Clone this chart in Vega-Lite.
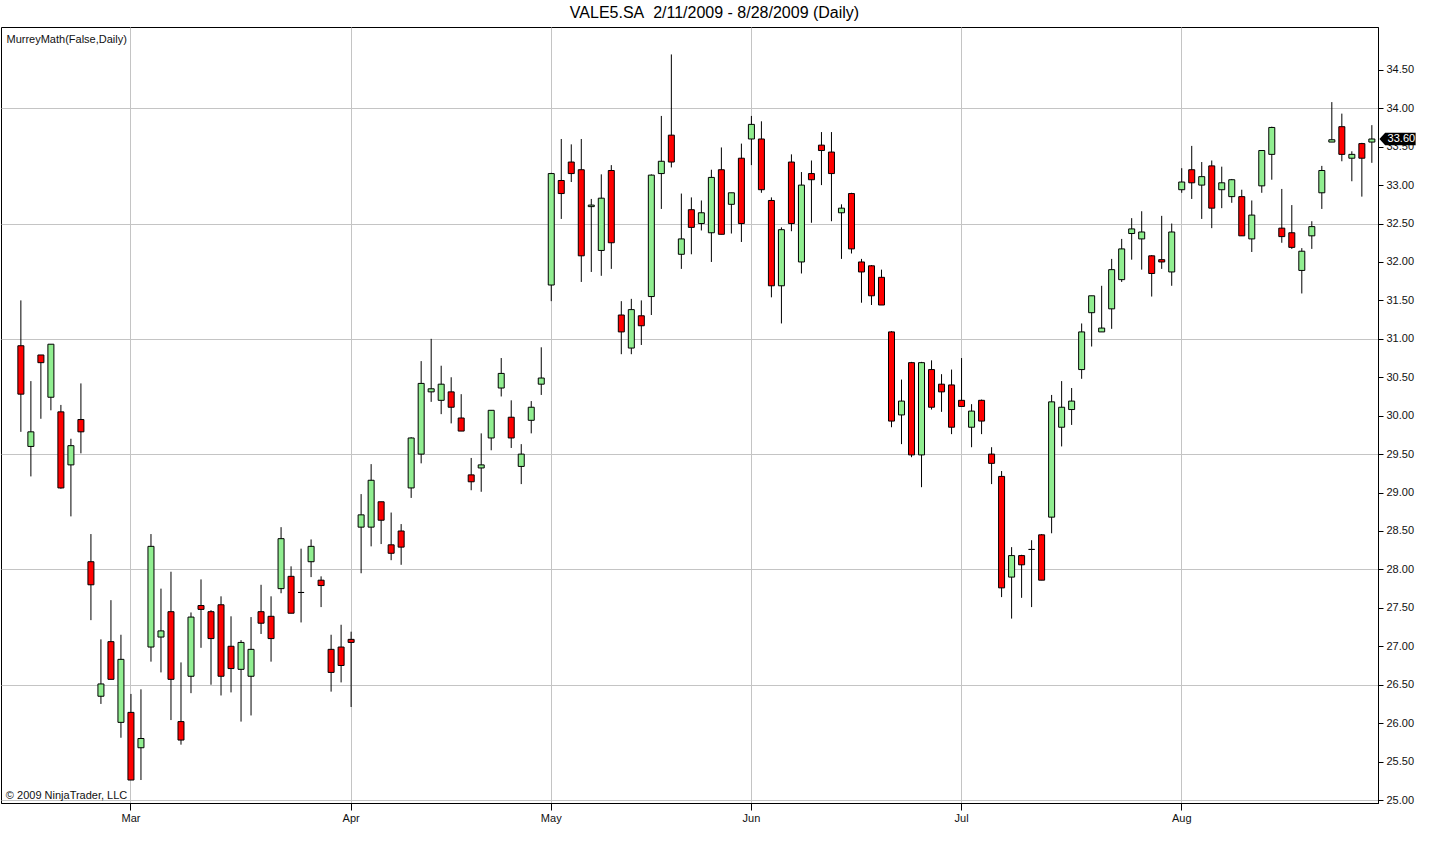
{
  "$schema": "https://vega.github.io/schema/vega-lite/v6.json",
  "width": 1377,
  "height": 776,
  "autosize": {"type": "none"},
  "padding": {"left": 1, "top": 27, "right": 62, "bottom": 44},
  "background": "white",
  "config": {
    "font": "Liberation Sans",
    "view": {"stroke": "black", "strokeWidth": 1},
    "axis": {"labelFont": "Liberation Sans", "labelFontSize": 11, "labelColor": "#111111", "domainColor": "black", "tickColor": "black", "gridColor": "#c4c4c4", "gridWidth": 1}
  },
  "title": {
    "text": "VALE5.SA\u00a0 2/11/2009 - 8/28/2009 (Daily)",
    "font": "Liberation Sans",
    "fontSize": 16,
    "fontWeight": "normal",
    "color": "black",
    "anchor": "middle",
    "dx": 25,
    "offset": -7,
    "baseline": "alphabetic"
  },
  "data": {"values": [
    {"date":"2009-02-11","open":30.91,"high":31.50,"low":29.79,"close":30.28},
    {"date":"2009-02-12","open":29.60,"high":30.45,"low":29.21,"close":29.79},
    {"date":"2009-02-13","open":30.79,"high":30.79,"low":29.96,"close":30.69},
    {"date":"2009-02-16","open":30.24,"high":30.93,"low":30.07,"close":30.93},
    {"date":"2009-02-17","open":30.05,"high":30.14,"low":29.05,"close":29.06},
    {"date":"2009-02-18","open":29.36,"high":29.70,"low":28.69,"close":29.61},
    {"date":"2009-02-19","open":29.95,"high":30.42,"low":29.51,"close":29.79},
    {"date":"2009-02-20","open":28.10,"high":28.46,"low":27.34,"close":27.80},
    {"date":"2009-02-25","open":26.35,"high":27.09,"low":26.25,"close":26.51},
    {"date":"2009-02-26","open":27.06,"high":27.60,"low":26.57,"close":26.57},
    {"date":"2009-02-27","open":26.01,"high":27.15,"low":25.81,"close":26.83},
    {"date":"2009-03-02","open":26.14,"high":26.38,"low":25.26,"close":25.26},
    {"date":"2009-03-03","open":25.68,"high":26.44,"low":25.26,"close":25.80},
    {"date":"2009-03-04","open":26.99,"high":28.46,"low":26.80,"close":28.30},
    {"date":"2009-03-05","open":27.12,"high":27.75,"low":26.66,"close":27.20},
    {"date":"2009-03-06","open":27.45,"high":27.97,"low":26.04,"close":26.57},
    {"date":"2009-03-09","open":26.02,"high":26.79,"low":25.72,"close":25.78},
    {"date":"2009-03-10","open":26.61,"high":27.44,"low":26.39,"close":27.38},
    {"date":"2009-03-11","open":27.53,"high":27.87,"low":26.98,"close":27.48},
    {"date":"2009-03-12","open":27.45,"high":27.47,"low":26.50,"close":27.10},
    {"date":"2009-03-13","open":27.54,"high":27.65,"low":26.36,"close":26.61},
    {"date":"2009-03-16","open":27.00,"high":27.39,"low":26.40,"close":26.71},
    {"date":"2009-03-17","open":26.70,"high":27.08,"low":26.02,"close":27.05},
    {"date":"2009-03-18","open":26.61,"high":27.38,"low":26.10,"close":26.96},
    {"date":"2009-03-19","open":27.45,"high":27.80,"low":27.16,"close":27.30},
    {"date":"2009-03-20","open":27.39,"high":27.65,"low":26.80,"close":27.10},
    {"date":"2009-03-23","open":27.75,"high":28.55,"low":27.69,"close":28.40},
    {"date":"2009-03-24","open":27.91,"high":28.04,"low":27.43,"close":27.43},
    {"date":"2009-03-25","open":27.70,"high":28.27,"low":27.31,"close":27.70},
    {"date":"2009-03-26","open":28.10,"high":28.39,"low":27.90,"close":28.30},
    {"date":"2009-03-27","open":27.86,"high":27.91,"low":27.51,"close":27.79},
    {"date":"2009-03-30","open":26.96,"high":27.15,"low":26.41,"close":26.66},
    {"date":"2009-03-31","open":26.99,"high":27.28,"low":26.53,"close":26.75},
    {"date":"2009-04-01","open":27.09,"high":27.19,"low":26.21,"close":27.05},
    {"date":"2009-04-02","open":28.55,"high":28.98,"low":27.95,"close":28.71},
    {"date":"2009-04-03","open":28.55,"high":29.37,"low":28.30,"close":29.16},
    {"date":"2009-04-06","open":28.88,"high":28.88,"low":28.33,"close":28.64},
    {"date":"2009-04-07","open":28.32,"high":28.74,"low":28.12,"close":28.21},
    {"date":"2009-04-08","open":28.50,"high":28.59,"low":28.06,"close":28.29},
    {"date":"2009-04-09","open":29.06,"high":29.72,"low":28.93,"close":29.71},
    {"date":"2009-04-13","open":29.50,"high":30.71,"low":29.38,"close":30.42},
    {"date":"2009-04-14","open":30.31,"high":31.00,"low":30.18,"close":30.35},
    {"date":"2009-04-15","open":30.20,"high":30.65,"low":30.02,"close":30.41},
    {"date":"2009-04-16","open":30.31,"high":30.50,"low":29.90,"close":30.11},
    {"date":"2009-04-17","open":29.97,"high":30.28,"low":29.80,"close":29.80},
    {"date":"2009-04-20","open":29.23,"high":29.45,"low":29.03,"close":29.14},
    {"date":"2009-04-22","open":29.32,"high":29.77,"low":29.01,"close":29.36},
    {"date":"2009-04-23","open":29.71,"high":30.07,"low":29.55,"close":30.07},
    {"date":"2009-04-24","open":30.36,"high":30.75,"low":30.25,"close":30.55},
    {"date":"2009-04-27","open":29.98,"high":30.20,"low":29.58,"close":29.71},
    {"date":"2009-04-28","open":29.34,"high":29.63,"low":29.11,"close":29.50},
    {"date":"2009-04-29","open":29.94,"high":30.19,"low":29.77,"close":30.11},
    {"date":"2009-04-30","open":30.41,"high":30.89,"low":30.27,"close":30.49},
    {"date":"2009-05-04","open":31.70,"high":33.16,"low":31.49,"close":33.15},
    {"date":"2009-05-05","open":33.06,"high":33.60,"low":32.56,"close":32.89},
    {"date":"2009-05-06","open":33.30,"high":33.53,"low":33.04,"close":33.15},
    {"date":"2009-05-07","open":33.20,"high":33.60,"low":31.74,"close":32.08},
    {"date":"2009-05-08","open":32.72,"high":32.82,"low":31.87,"close":32.74},
    {"date":"2009-05-11","open":32.15,"high":33.14,"low":31.82,"close":32.83},
    {"date":"2009-05-12","open":33.19,"high":33.26,"low":31.91,"close":32.25},
    {"date":"2009-05-13","open":31.31,"high":31.49,"low":30.80,"close":31.09},
    {"date":"2009-05-14","open":30.88,"high":31.52,"low":30.80,"close":31.38},
    {"date":"2009-05-15","open":31.30,"high":31.50,"low":30.92,"close":31.17},
    {"date":"2009-05-18","open":31.55,"high":33.14,"low":31.31,"close":33.13},
    {"date":"2009-05-19","open":33.15,"high":33.90,"low":32.69,"close":33.31},
    {"date":"2009-05-20","open":33.65,"high":34.70,"low":33.23,"close":33.30},
    {"date":"2009-05-21","open":32.10,"high":32.89,"low":31.91,"close":32.30},
    {"date":"2009-05-22","open":32.68,"high":32.84,"low":32.10,"close":32.45},
    {"date":"2009-05-25","open":32.50,"high":32.80,"low":32.41,"close":32.64},
    {"date":"2009-05-26","open":32.38,"high":33.20,"low":32.00,"close":33.10},
    {"date":"2009-05-27","open":33.20,"high":33.49,"low":32.36,"close":32.36},
    {"date":"2009-05-28","open":32.75,"high":32.90,"low":32.37,"close":32.90},
    {"date":"2009-05-29","open":33.35,"high":33.54,"low":32.26,"close":32.50},
    {"date":"2009-06-01","open":33.60,"high":33.90,"low":33.26,"close":33.79},
    {"date":"2009-06-02","open":33.60,"high":33.83,"low":32.90,"close":32.94},
    {"date":"2009-06-03","open":32.80,"high":32.84,"low":31.54,"close":31.69},
    {"date":"2009-06-04","open":31.69,"high":32.45,"low":31.20,"close":32.42},
    {"date":"2009-06-05","open":33.30,"high":33.40,"low":32.40,"close":32.50},
    {"date":"2009-06-08","open":32.00,"high":33.17,"low":31.85,"close":33.00},
    {"date":"2009-06-09","open":33.15,"high":33.32,"low":32.51,"close":33.07},
    {"date":"2009-06-10","open":33.52,"high":33.69,"low":33.00,"close":33.45},
    {"date":"2009-06-12","open":33.43,"high":33.69,"low":32.53,"close":33.15},
    {"date":"2009-06-15","open":32.64,"high":32.75,"low":32.04,"close":32.70},
    {"date":"2009-06-16","open":32.89,"high":32.90,"low":32.11,"close":32.17},
    {"date":"2009-06-17","open":32.00,"high":32.04,"low":31.47,"close":31.87},
    {"date":"2009-06-18","open":31.95,"high":31.96,"low":31.44,"close":31.56},
    {"date":"2009-06-19","open":31.80,"high":31.90,"low":31.44,"close":31.44},
    {"date":"2009-06-22","open":31.09,"high":31.10,"low":29.85,"close":29.93},
    {"date":"2009-06-23","open":30.01,"high":30.47,"low":29.63,"close":30.19},
    {"date":"2009-06-24","open":30.69,"high":30.70,"low":29.46,"close":29.49},
    {"date":"2009-06-25","open":29.49,"high":30.70,"low":29.07,"close":30.69},
    {"date":"2009-06-26","open":30.60,"high":30.72,"low":30.08,"close":30.11},
    {"date":"2009-06-29","open":30.41,"high":30.54,"low":30.05,"close":30.31},
    {"date":"2009-06-30","open":30.40,"high":30.60,"low":29.76,"close":29.85},
    {"date":"2009-07-01","open":30.20,"high":30.75,"low":30.12,"close":30.12},
    {"date":"2009-07-02","open":29.85,"high":30.15,"low":29.59,"close":30.06},
    {"date":"2009-07-03","open":30.20,"high":30.21,"low":29.76,"close":29.93},
    {"date":"2009-07-06","open":29.50,"high":29.59,"low":29.11,"close":29.38},
    {"date":"2009-07-07","open":29.21,"high":29.28,"low":27.64,"close":27.76},
    {"date":"2009-07-08","open":27.90,"high":28.29,"low":27.36,"close":28.18},
    {"date":"2009-07-10","open":28.18,"high":28.19,"low":27.63,"close":28.06},
    {"date":"2009-07-13","open":28.26,"high":28.38,"low":27.51,"close":28.26},
    {"date":"2009-07-14","open":28.45,"high":28.46,"low":27.86,"close":27.86},
    {"date":"2009-07-15","open":28.68,"high":30.27,"low":28.47,"close":30.18},
    {"date":"2009-07-16","open":29.85,"high":30.45,"low":29.60,"close":30.11},
    {"date":"2009-07-17","open":30.08,"high":30.36,"low":29.88,"close":30.19},
    {"date":"2009-07-20","open":30.60,"high":31.20,"low":30.48,"close":31.09},
    {"date":"2009-07-21","open":31.34,"high":31.56,"low":30.90,"close":31.56},
    {"date":"2009-07-22","open":31.09,"high":31.69,"low":31.09,"close":31.14},
    {"date":"2009-07-23","open":31.39,"high":32.04,"low":31.13,"close":31.90},
    {"date":"2009-07-24","open":31.77,"high":32.30,"low":31.74,"close":32.17},
    {"date":"2009-07-27","open":32.37,"high":32.57,"low":32.03,"close":32.43},
    {"date":"2009-07-28","open":32.30,"high":32.66,"low":31.90,"close":32.39},
    {"date":"2009-07-29","open":32.08,"high":32.09,"low":31.55,"close":31.85},
    {"date":"2009-07-30","open":32.03,"high":32.60,"low":31.91,"close":32.00},
    {"date":"2009-07-31","open":31.87,"high":32.50,"low":31.69,"close":32.39},
    {"date":"2009-08-03","open":32.94,"high":33.22,"low":32.90,"close":33.04},
    {"date":"2009-08-04","open":33.20,"high":33.51,"low":32.82,"close":33.03},
    {"date":"2009-08-05","open":33.00,"high":33.30,"low":32.56,"close":33.11},
    {"date":"2009-08-06","open":33.25,"high":33.32,"low":32.44,"close":32.70},
    {"date":"2009-08-07","open":32.94,"high":33.24,"low":32.70,"close":33.03},
    {"date":"2009-08-10","open":32.85,"high":33.08,"low":32.77,"close":33.07},
    {"date":"2009-08-11","open":32.85,"high":32.94,"low":32.34,"close":32.34},
    {"date":"2009-08-12","open":32.30,"high":32.80,"low":32.13,"close":32.61},
    {"date":"2009-08-13","open":32.99,"high":33.45,"low":32.90,"close":33.45},
    {"date":"2009-08-14","open":33.40,"high":33.76,"low":33.07,"close":33.75},
    {"date":"2009-08-17","open":32.44,"high":32.95,"low":32.25,"close":32.33},
    {"date":"2009-08-18","open":32.38,"high":32.74,"low":32.17,"close":32.19},
    {"date":"2009-08-19","open":31.89,"high":32.18,"low":31.59,"close":32.14},
    {"date":"2009-08-20","open":32.34,"high":32.53,"low":32.17,"close":32.46},
    {"date":"2009-08-21","open":32.90,"high":33.25,"low":32.69,"close":33.19},
    {"date":"2009-08-24","open":33.56,"high":34.08,"low":33.56,"close":33.59},
    {"date":"2009-08-25","open":33.76,"high":33.93,"low":33.31,"close":33.40},
    {"date":"2009-08-26","open":33.35,"high":33.44,"low":33.05,"close":33.40},
    {"date":"2009-08-27","open":33.54,"high":33.55,"low":32.85,"close":33.35},
    {"date":"2009-08-28","open":33.56,"high":33.78,"low":33.29,"close":33.60}
  ]},
  "encoding": {
    "x": {
      "field": "date",
      "type": "ordinal",
      "scale": {"type": "band", "paddingInner": 0.4, "paddingOuter": 1.05, "align": 0.843},
      "axis": {
        "title": null,
        "values": ["2009-03-02", "2009-04-01", "2009-05-04", "2009-06-01", "2009-07-01", "2009-08-03"],
        "labelExpr": "['','Jan','Feb','Mar','Apr','May','Jun','Jul','Aug','Sep','Oct','Nov','Dec'][toNumber(substring(datum.value,5,7))]",
        "labelAngle": 0,
        "bandPosition": 0.5,
        "grid": true,
        "tickSize": 7,
        "labelPadding": 2,
        "labelFontSize": 11
      }
    }
  },
  "layer": [
    {
      "mark": {"type": "rule", "color": "black", "strokeWidth": 1},
      "encoding": {
        "y": {
          "field": "low",
          "type": "quantitative",
          "scale": {"domain": [24.961, 35.057], "zero": false, "nice": false},
          "axis": {
            "title": null,
            "orient": "right",
            "values": [25, 25.5, 26, 26.5, 27, 27.5, 28, 28.5, 29, 29.5, 30, 30.5, 31, 31.5, 32, 32.5, 33, 33.5, 34, 34.5],
            "format": ".2f",
            "tickSize": 5,
            "labelPadding": 3,
            "grid": true,
            "gridOpacity": {"condition": {"test": "abs((datum.value - 25) % 1.5) < 0.01", "value": 1}, "value": 0}
          }
        },
        "y2": {"field": "high"}
      }
    },
    {
      "mark": {"type": "bar", "stroke": "black", "strokeWidth": 1},
      "encoding": {
        "y": {"field": "open", "type": "quantitative"},
        "y2": {"field": "close"},
        "fill": {"condition": {"test": "datum.close >= datum.open", "value": "#90ee90"}, "value": "#ff0000"}
      }
    },
    {
      "transform": [{"filter": "datum.date == '2009-08-28'"}],
      "mark": {
        "type": "point",
        "shape": "M-1,0 L-0.685,-0.34 L1,-0.34 L1,0.34 L-0.685,0.34 Z",
        "size": 1310,
        "filled": true,
        "color": "black",
        "opacity": 1,
        "xOffset": 25.7
      },
      "encoding": {"y": {"field": "close", "type": "quantitative"}}
    },
    {
      "transform": [{"filter": "datum.date == '2009-08-28'"}],
      "mark": {"type": "text", "color": "white", "fontSize": 11, "align": "center", "baseline": "middle", "dx": 29.5, "dy": 0.5},
      "encoding": {
        "y": {"field": "close", "type": "quantitative"},
        "text": {"field": "close", "type": "quantitative", "format": ".2f"}
      }
    },
    {
      "data": {"values": [{}]},
      "mark": {"type": "text", "text": "MurreyMath(False,Daily)", "align": "left", "baseline": "alphabetic", "fontSize": 11, "color": "#111111", "dx": -14.4},
      "encoding": {
        "x": {"datum": "2009-02-11", "type": "ordinal"},
        "y": {"datum": 34.849, "type": "quantitative"}
      }
    },
    {
      "data": {"values": [{}]},
      "mark": {"type": "text", "text": "\u00a9 2009 NinjaTrader, LLC", "align": "left", "baseline": "alphabetic", "fontSize": 11, "color": "#111111", "dx": -15},
      "encoding": {
        "x": {"datum": "2009-02-11", "type": "ordinal"},
        "y": {"datum": 25.013, "type": "quantitative"}
      }
    }
  ]
}
